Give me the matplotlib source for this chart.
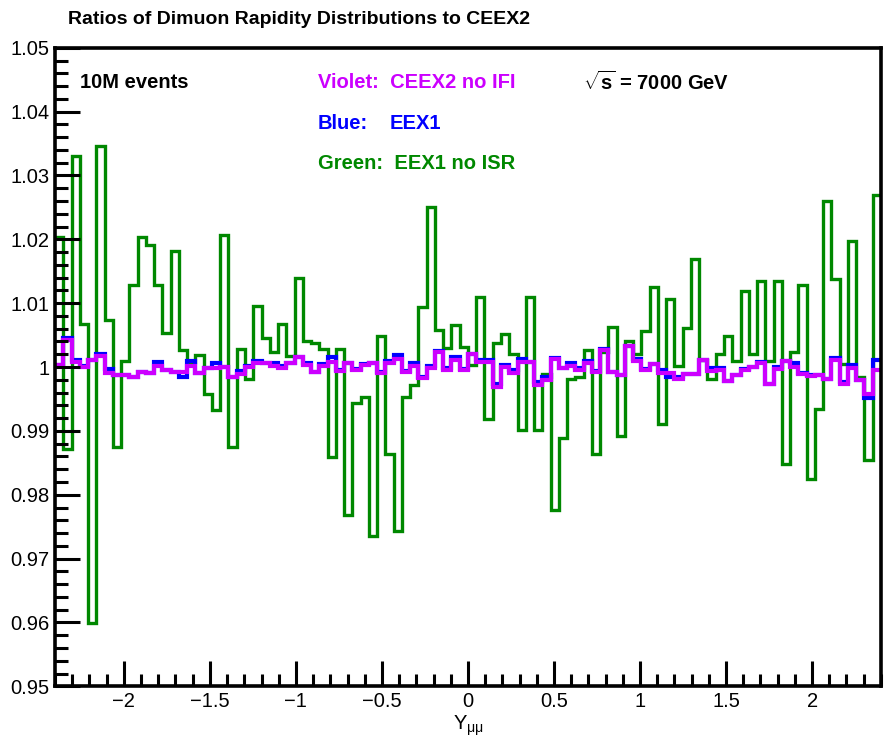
import numpy as np
import matplotlib
matplotlib.use('Agg')
import matplotlib.pyplot as plt
from matplotlib.ticker import MultipleLocator, FuncFormatter

plt.rcParams['font.family'] = ['Liberation Sans', 'DejaVu Sans']
plt.rcParams['mathtext.fontset'] = 'custom'
plt.rcParams['mathtext.rm'] = 'Liberation Sans'
plt.rcParams['mathtext.it'] = 'Liberation Sans'
plt.rcParams['mathtext.bf'] = 'Liberation Sans:bold'

# 100 bins in rapidity
edges = np.linspace(-2.4, 2.4, 101)

# EEX1 no ISR / CEEX2
green = [
    1.0203, 0.9872, 1.0331, 1.0068, 0.9599, 1.0346, 1.0074, 0.9875, 1.0009, 1.0128,
    1.0203, 1.0191, 1.0128, 1.0054, 1.0182, 1.0026, 1.0008, 1.0019, 0.9958, 0.9932,
    1.0206, 0.9875, 1.0029, 0.9982, 1.0096, 1.0045, 1.0024, 1.0067, 1.0018, 1.0139,
    1.0041, 1.0037, 1.0029, 0.9859, 1.0029, 0.9769, 0.9944, 0.9953, 0.9735, 1.0049,
    0.9864, 0.9743, 0.9953, 0.9972, 1.0094, 1.0251, 1.0058, 1.0030, 1.0066, 1.0032,
    1.0003, 1.0109, 0.9919, 1.0038, 1.0052, 1.0020, 0.9901, 1.0109, 0.9901, 0.9989,
    0.9776, 0.9889, 0.9982, 0.9985, 1.0026, 0.9864, 1.0024, 1.0062, 0.9892, 1.0041,
    1.0020, 1.0056, 1.0126, 0.9911, 1.0106, 1.0001, 1.0061, 1.0169, 1.0011, 0.9982,
    1.0020, 1.0049, 1.0010, 1.0119, 1.0020, 1.0134, 1.0010, 1.0134, 0.9848, 1.0024,
    1.0128, 0.9824, 0.9934, 1.0260, 1.0138, 1.0005, 1.0198, 0.9985, 0.9854, 1.0270]

# EEX1 / CEEX2
blue = [
    1.0003, 1.0046, 1.0011, 1.0002, 1.0011, 1.0021, 0.9997, 0.9988, 0.9987, 0.9985,
    0.9992, 0.9990, 1.0008, 0.9995, 0.9992, 0.9985, 1.0009, 0.9990, 0.9999, 1.0007,
    1.0000, 0.9984, 0.9994, 1.0002, 1.0010, 1.0006, 1.0006, 1.0001, 1.0006, 1.0016,
    1.0006, 0.9992, 1.0005, 1.0016, 0.9996, 1.0007, 0.9997, 1.0005, 1.0007, 0.9993,
    1.0010, 1.0019, 0.9994, 1.0006, 0.9984, 1.0002, 1.0025, 0.9998, 1.0016, 0.9997,
    1.0021, 1.0011, 1.0011, 0.9973, 1.0003, 0.9995, 1.0013, 1.0008, 0.9977, 0.9985,
    1.0014, 0.9999, 1.0006, 0.9999, 1.0009, 0.9994, 1.0028, 0.9992, 0.9987, 1.0033,
    1.0013, 0.9997, 1.0005, 0.9995, 0.9985, 0.9985, 0.9989, 0.9989, 1.0011, 0.9999,
    0.9998, 0.9978, 0.9988, 0.9997, 1.0000, 1.0008, 0.9973, 1.0000, 1.0010, 1.0007,
    0.9990, 0.9988, 0.9987, 0.9981, 1.0014, 0.9977, 1.0003, 0.9979, 0.9952, 1.0011]

# CEEX2 no IFI / CEEX2
violet = [
    1.0003, 1.0043, 1.0008, 1.0000, 1.0011, 1.0017, 0.9991, 0.9988, 0.9987, 0.9985,
    0.9992, 0.9990, 1.0001, 0.9995, 0.9992, 0.9992, 1.0001, 0.9990, 0.9999, 0.9999,
    1.0000, 0.9984, 0.9989, 1.0000, 1.0007, 1.0006, 1.0002, 0.9998, 1.0006, 1.0016,
    1.0003, 0.9992, 1.0002, 1.0008, 0.9994, 1.0007, 0.9995, 1.0003, 1.0007, 0.9991,
    1.0006, 1.0013, 0.9992, 1.0002, 0.9983, 0.9998, 1.0023, 0.9996, 1.0011, 0.9995,
    1.0021, 1.0008, 1.0008, 0.9969, 1.0000, 0.9991, 1.0008, 1.0008, 0.9972, 0.9979,
    1.0012, 0.9999, 1.0001, 0.9995, 1.0007, 0.9992, 1.0026, 0.9992, 0.9987, 1.0033,
    1.0010, 0.9995, 1.0005, 0.9990, 0.9990, 0.9981, 0.9989, 0.9989, 1.0011, 0.9994,
    0.9996, 0.9978, 0.9988, 0.9995, 1.0000, 1.0006, 0.9973, 0.9997, 1.0010, 1.0000,
    0.9989, 0.9986, 0.9987, 0.9981, 1.0011, 0.9973, 0.9999, 0.9979, 0.9957, 0.9995]

GREEN = '#008800'
BLUE = '#0000ff'
VIOLET = '#cc00ff'

fig = plt.figure(figsize=(8.88, 7.46), dpi=100)
ax = fig.add_axes([0.062, 0.080, 0.930, 0.856])

ax.stairs(green, edges, color=GREEN, lw=2.4, baseline=None)
ax.stairs(blue, edges, color=BLUE, lw=3.0, baseline=None)
ax.stairs(violet, edges, color=VIOLET, lw=3.0, baseline=None)

ax.set_xlim(-2.4, 2.4)
ax.set_ylim(0.95, 1.05)

ax.xaxis.set_major_locator(MultipleLocator(0.5))
ax.xaxis.set_minor_locator(MultipleLocator(0.1))
ax.yaxis.set_major_locator(MultipleLocator(0.01))
ax.yaxis.set_minor_locator(MultipleLocator(0.002))
ax.yaxis.set_major_formatter(FuncFormatter(lambda v, p: '%g' % round(v, 4)))
ax.xaxis.set_major_formatter(FuncFormatter(lambda v, p: ('%g' % round(v, 3)).replace('-', '\u2212')))

ax.tick_params(which='both', direction='in', width=2.2, top=False, right=False,
               labelsize=14.5)
ax.tick_params(which='major', length=18)
ax.tick_params(which='minor', length=9)
ax.tick_params(axis='x', pad=4)
ax.tick_params(axis='y', pad=4)
for sp in ax.spines.values():
    sp.set_linewidth(2.6)

ax.set_xlabel(r'Y$_{\mu\mu}$', fontsize=14.5, labelpad=2)

fig.text(0.077, 0.974, 'Ratios of Dimuon Rapidity Distributions to CEEX2',
         fontsize=14, fontweight='bold', va='center')

kw = dict(fontsize=14.5, fontweight='bold', va='center')
fig.text(0.090, 0.890, '10M events', color='black', **kw)
fig.text(0.358, 0.890, 'Violet:  CEEX2 no IFI', color=VIOLET, **kw)
fig.text(0.358, 0.835, 'Blue:', color=BLUE, **kw)
fig.text(0.439, 0.835, 'EEX1', color=BLUE, **kw)
fig.text(0.358, 0.781, 'Green:  EEX1 no ISR', color=GREEN, **kw)
fig.text(0.657, 0.890, r'$\sqrt{\mathbf{s}}$ = 7000 GeV', color='black', **kw)

fig.savefig('out.png', dpi=100)
